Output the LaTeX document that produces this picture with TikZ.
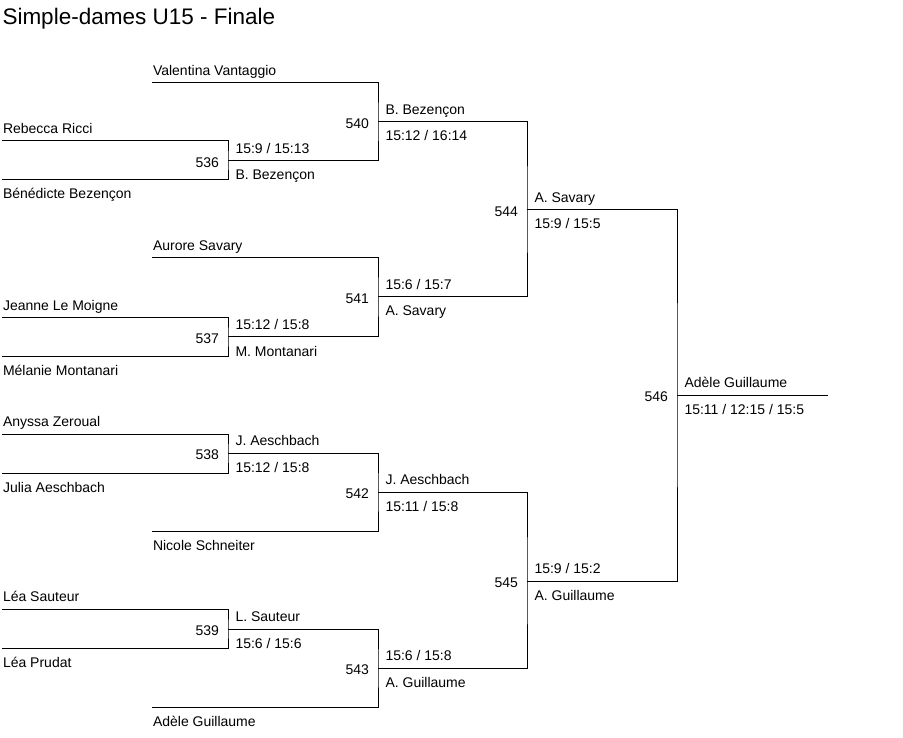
\documentclass[tikz,border=0pt]{standalone}
\usepackage{fontspec}
\setmainfont{Liberation Sans}
\begin{document}
\begin{tikzpicture}[x=1pt,y=-1pt,line width=1pt,
  lbl/.style={anchor=base west,inner sep=0pt,font=\fontsize{14}{16}\selectfont},
  num/.style={anchor=base east,inner sep=0pt,font=\fontsize{14}{16}\selectfont},
  ttl/.style={anchor=base west,inner sep=0pt,font=\fontsize{22.5}{26}\selectfont},
  br/.style={draw=black,line cap=rect}]
\fill[white] (0,0) rectangle (903,738);
\useasboundingbox (0,0) rectangle (903,738);
\node[ttl] (title) at (2,25) {Simple-dames U15 - Finale};
% leaf line starts
\coordinate (p1) at (2,141);
\coordinate (p2) at (2,180);
\coordinate (p3) at (2,318);
\coordinate (p4) at (2,356);
\coordinate (p5) at (2,434);
\coordinate (p6) at (2,473);
\coordinate (p7) at (2,609);
\coordinate (p8) at (2,648);
\coordinate (v1) at (152,83);
\coordinate (v2) at (152,258);
\coordinate (v3) at (152,531);
\coordinate (v4) at (152,707);
% match junctions
\coordinate (m536) at (228,161);
\coordinate (m537) at (228,337);
\coordinate (m538) at (228,453);
\coordinate (m539) at (228,629);
\coordinate (m540) at (378,122);
\coordinate (m541) at (378,297);
\coordinate (m542) at (378,492);
\coordinate (m543) at (378,668);
\coordinate (m544) at (527,210);
\coordinate (m545) at (527,581);
\coordinate (m546) at (677,395);
\coordinate (fin) at (827,395);
% brackets
\draw[br] (p1) -| (m536) |- (p2);
\draw[br] (p3) -| (m537) |- (p4);
\draw[br] (p5) -| (m538) |- (p6);
\draw[br] (p7) -| (m539) |- (p8);
\draw[br] (v1) -| (m540) |- (m536);
\draw[br] (v2) -| (m541) |- (m537);
\draw[br] (m538) -| (m542) |- (v3);
\draw[br] (m539) -| (m543) |- (v4);
\draw[br] (m540) -| (m544) |- (m541);
\draw[br] (m542) -| (m545) |- (m543);
\draw[br] (m544) -| (m546) |- (m545);
\draw[br] (m546) -- (fin);
% player names
\node[lbl] (t1) at ([shift={(0.5,-7.5)}]p1) {Rebecca Ricci};
\node[lbl] (t2) at ([shift={(0.5,19)}]p2) {Bénédicte Bezençon};
\node[lbl] (t3) at ([shift={(0.5,-7.5)}]p3) {Jeanne Le Moigne};
\node[lbl] (t4) at ([shift={(0.5,19)}]p4) {Mélanie Montanari};
\node[lbl] (t5) at ([shift={(0.5,-7.5)}]p5) {Anyssa Zeroual};
\node[lbl] (t6) at ([shift={(0.5,19)}]p6) {Julia Aeschbach};
\node[lbl] (t7) at ([shift={(0.5,-7.5)}]p7) {Léa Sauteur};
\node[lbl] (t8) at ([shift={(0.5,19)}]p8) {Léa Prudat};
\node[lbl] (tv1) at ([shift={(0.5,-7.5)}]v1) {Valentina Vantaggio};
\node[lbl] (tv2) at ([shift={(0.5,-7.5)}]v2) {Aurore Savary};
\node[lbl] (tv3) at ([shift={(0.5,19)}]v3) {Nicole Schneiter};
\node[lbl] (tv4) at ([shift={(0.5,19)}]v4) {Adèle Guillaume};
% match numbers
\foreach \m in {536,537,538,539,540,541,542,543,544,545,546}
  \node[num] (n\m) at ([shift={(-8.5,6.5)}]m\m) {\m};
% results
\node[lbl] (a536) at ([shift={(7,-7.5)}]m536) {15:9 / 15:13};
\node[lbl] (b536) at ([shift={(7,19)}]m536) {B. Bezençon};
\node[lbl] (a537) at ([shift={(7,-7.5)}]m537) {15:12 / 15:8};
\node[lbl] (b537) at ([shift={(7,19)}]m537) {M. Montanari};
\node[lbl] (a538) at ([shift={(7,-7.5)}]m538) {J. Aeschbach};
\node[lbl] (b538) at ([shift={(7,19)}]m538) {15:12 / 15:8};
\node[lbl] (a539) at ([shift={(7,-7.5)}]m539) {L. Sauteur};
\node[lbl] (b539) at ([shift={(7,19)}]m539) {15:6 / 15:6};
\node[lbl] (a540) at ([shift={(7,-7.5)}]m540) {B. Bezençon};
\node[lbl] (b540) at ([shift={(7,19)}]m540) {15:12 / 16:14};
\node[lbl] (a541) at ([shift={(7,-7.5)}]m541) {15:6 / 15:7};
\node[lbl] (b541) at ([shift={(7,19)}]m541) {A. Savary};
\node[lbl] (a542) at ([shift={(7,-7.5)}]m542) {J. Aeschbach};
\node[lbl] (b542) at ([shift={(7,19)}]m542) {15:11 / 15:8};
\node[lbl] (a543) at ([shift={(7,-7.5)}]m543) {15:6 / 15:8};
\node[lbl] (b543) at ([shift={(7,19)}]m543) {A. Guillaume};
\node[lbl] (a544) at ([shift={(7,-7.5)}]m544) {A. Savary};
\node[lbl] (b544) at ([shift={(7,19)}]m544) {15:9 / 15:5};
\node[lbl] (a545) at ([shift={(7,-7.5)}]m545) {15:9 / 15:2};
\node[lbl] (b545) at ([shift={(7,19)}]m545) {A. Guillaume};
\node[lbl] (a546) at ([shift={(7,-7.5)}]m546) {Adèle Guillaume};
\node[lbl] (b546) at ([shift={(7,19)}]m546) {15:11 / 12:15 / 15:5};
\end{tikzpicture}
\end{document}
